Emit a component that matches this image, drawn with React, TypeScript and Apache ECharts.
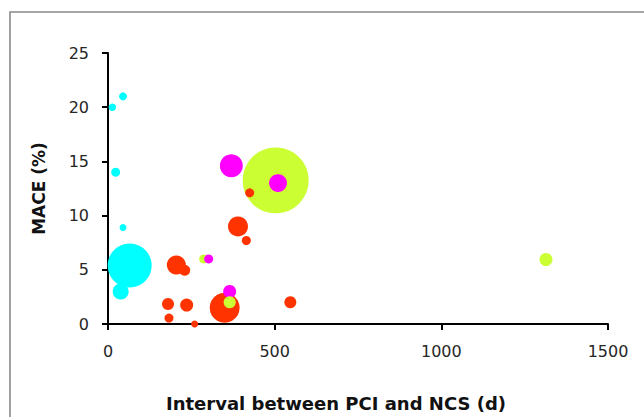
import React, { useEffect, useRef } from "react";
import * as echarts from "echarts";

// Interval between PCI and NCS (days), MACE (%), and bubble weight (area-proportional)
const cyanDays = [13, 45, 23, 45, 65, 38];
const cyanMace = [20.0, 21.0, 14.0, 8.9, 5.4, 3.0];
const cyanWeight = [3.5, 4, 5, 3, 121, 16];

const redDays = [205, 230, 180, 183, 236, 260, 350, 390, 415, 425, 547];
const redMace = [5.45, 4.95, 1.85, 0.55, 1.75, 0, 1.5, 9.0, 7.7, 12.1, 2.0];
const redWeight = [22.6, 7.6, 9, 5.1, 10.6, 3.1, 56, 25, 5.1, 5.1, 9];

const greenDays = [503, 287, 365, 1314];
const greenMace = [13.25, 6.0, 2.0, 5.95];
const greenWeight = [272, 5.1, 9, 10.6];

const magentaDays = [370, 510, 302, 365];
const magentaMace = [14.6, 13.0, 6.0, 3.0];
const magentaWeight = [33, 20, 5.1, 10.6];

const xTicks = [0, 500, 1000, 1500];
const yTicks = [0, 5, 10, 15, 20, 25];

const groups = [
  { color: "#00FFFF", days: cyanDays, mace: cyanMace, weight: cyanWeight },
  { color: "#FF3300", days: redDays, mace: redMace, weight: redWeight },
  { color: "#CCFF33", days: greenDays, mace: greenMace, weight: greenWeight },
  { color: "#FF00FF", days: magentaDays, mace: magentaMace, weight: magentaWeight },
];

export default function App() {
  const ref = useRef<HTMLDivElement>(null);
  useEffect(() => {
    if (!ref.current) return;
    const chart = echarts.init(ref.current, undefined, { renderer: "svg" });
    const points: any[] = [];
    groups.forEach((g) => {
      g.days.forEach((d, i) => {
        points.push({
          value: [d, g.mace[i], g.weight[i]],
          itemStyle: { color: g.color },
        });
      });
    });
    points.sort((a, b) => b.value[2] - a.value[2]);
    const font = "'DejaVu Sans', Verdana, sans-serif";
    chart.setOption({
      animation: false,
      grid: { left: 108, top: 53, width: 500, height: 275.5, containLabel: false },
      xAxis: {
        type: "value",
        min: xTicks[0],
        max: xTicks[xTicks.length - 1],
        interval: 500,
        splitLine: { show: false },
        axisLine: { show: true, onZero: false, lineStyle: { color: "#000", width: 2 } },
        axisTick: { show: true, inside: false, length: 6, lineStyle: { color: "#000", width: 2 } },
        axisLabel: { color: "#262626", fontSize: 16, fontFamily: font, margin: 19, formatter: (v: number) => String(v) },
        name: "Interval between PCI and NCS (d)",
        nameLocation: "middle",
        nameGap: 70,
        nameTextStyle: { color: "#111", fontSize: 18, fontWeight: "bold", fontFamily: font, padding: [0, 44, 0, 0] },
      },
      yAxis: {
        type: "value",
        min: yTicks[0],
        max: yTicks[yTicks.length - 1],
        interval: 5,
        splitLine: { show: false },
        axisLine: { show: true, onZero: false, lineStyle: { color: "#000", width: 2 } },
        axisTick: { show: true, inside: false, length: 6, lineStyle: { color: "#000", width: 2 } },
        axisLabel: { color: "#262626", fontSize: 16, fontFamily: font, margin: 19, formatter: (v: number) => String(v) },
        name: "MACE (%)",
        nameLocation: "middle",
        nameGap: 61,
        nameTextStyle: { color: "#111", fontSize: 17, fontWeight: "bold", fontFamily: font },
      },
      graphic: [
        {
          type: "rect",
          shape: { x: 10, y: 12, width: 700, height: 500 },
          style: { fill: "none", stroke: "#8a8a8a", lineWidth: 1.6 },
          z: -1,
          silent: true,
        },
      ],
      series: [
        {
          type: "scatter",
          data: points,
          symbol: "circle",
          symbolSize: (v: number[]) => Math.sqrt(v[2]) * 4,
          itemStyle: { opacity: 1 },
          emphasis: { disabled: true },
        },
      ],
    });
    return () => chart.dispose();
  }, []);
  return (
    <div
      ref={ref}
      style={{ position: "fixed", left: 0, top: 0, width: 644, height: 417, background: "#fff" }}
    />
  );
}
